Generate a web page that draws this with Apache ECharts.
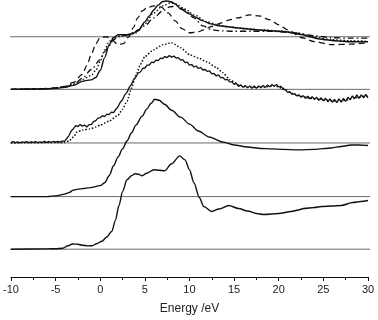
<!DOCTYPE html>
<html><head><meta charset="utf-8">
<script src="https://cdn.jsdelivr.net/npm/echarts@6/dist/echarts.min.js"></script>
<style>html,body{margin:0;padding:0;background:#fff}#c{width:378px;height:320px}</style>
</head><body><div id="c"></div>
<script>
// x-axis ticks
const xTicks = [-10, -5, 0, 5, 10, 15, 20, 25, 30];

// Top group (four calculated spectra) : [energy eV, intensity]
const topSolid = [[-10,0],[-7,0.3],[-5,1],[-4,2],[-3,4],[-2,8],[-1.5,9],[-1,9.5],[-0.5,12],[0,19],[0.5,32],[1,45],[1.5,52],[2,55],[3,55],[3.6,56],[4.3,60],[5,68],[5.5,74],[6,80],[6.5,85],[7,88.5],[7.5,89],[8,88],[8.5,85.5],[9,81],[10,76],[10.6,73],[11.5,69],[12.4,66],[13.3,64],[14.3,63],[15.2,62],[16.3,61],[17.4,60],[19,59],[20.8,58],[21.7,56.5],[22.7,55],[23.5,53],[24.4,51],[25.3,50],[26.3,49],[28,48],[30,48]];
const topDashed = [[-10,0],[-7,0.3],[-5,1.5],[-4,3],[-3,7],[-2,15],[-1.5,24],[-1,35],[-0.5,46],[0,52],[0.7,53],[1.3,50],[2,45],[2.6,46],[3.2,53],[3.7,62],[4.2,72],[4.7,79],[5.2,82],[6,84],[6.8,83],[7.6,77],[8.4,69],[9.2,61],[10,57],[11,58],[11.6,60],[12.5,63.5],[13.6,67],[14.5,70],[15.4,72],[16.7,75],[17.8,74],[19,70],[20,65],[21,60],[22.6,52],[24,48],[25.9,45],[28,45.5],[30,47]];
const topDashDot = [[-10,0],[-6,0.5],[-4,2],[-3,5],[-2,11],[-1,20],[0,30],[0.5,38],[1,44],[1.5,50],[2,53],[3,55],[4,58],[5,64],[6,72],[7,79],[7.8,83],[8.6,84],[9.5,80],[10.5,72],[11.5,64],[12.5,60],[13.5,59],[15,58.5],[17,58.5],[19,58.5],[21,57.5],[22.5,56],[24,54],[26,52],[28,51.5],[30,51.5]];
const topDotted = [[-10,0],[-6,0.5],[-4,2.5],[-3,5.5],[-2,10],[-1,14],[-0.5,19],[0,28],[0.5,40],[1,48],[1.5,52],[2,53.5],[3,54],[4,57],[5,66],[6,77],[7,84],[7.8,87],[8.5,86],[9.5,81],[10.5,75],[12,68],[13,65.5],[14,63.5],[16,61.5],[18,60],[20,59],[22,57],[24,52.5],[26,50],[28,49],[30,48.5]];

// Measured (noisy) spectrum, sampled every 0.25 eV from -10 to 30
const measuredStart = -10, measuredStep = 0.25;
const measuredNoisy = [
0.5,1.3,0.4,1.1,0.2,1.2,0.6,1.4,0.3,1.0,0.5,1.5,0.4,1.2,0.7,1.6,0.5,1.3,0.6,1.5,
0.8,1.7,0.9,2.0,1.6,4.5,7.5,12,14.5,17.5,16.5,18.5,17,18,16,18.5,18.5,21.5,22.5,25,
25.5,27.5,26.5,29,28.5,31,30.5,34,36.5,41,43.5,48.5,51,56,59,64,66.5,70.5,71.5,75,
75.5,78.5,78.5,81.5,81,83.5,83,85.5,85,87,86,88,86.5,87.5,85.5,86,83.5,84,81,81.5,
78.5,79,76.5,77.5,75,76,73.5,74,72,72.5,69.5,70,67.5,68.5,65.5,66,63.5,64,61.5,61.5,
59,60,57,58.5,56,58,55.5,57.5,55,57.5,55,57.5,55.5,58,56,58.5,56.5,59,57,59,
56.5,57,54,53.5,51,51.5,49,49.5,47.5,48.5,46,47.5,45,47,44.5,46.5,44,46,43,45.5,
42.5,45,41.5,44.5,41,44,40.5,44.5,41,45,42,46,43.5,47.5,44.5,48.5,45,48.5,45.5,49,
45.5];
const measuredDotted = [[-10,0],[-4,0.5],[-3.5,2],[-3,6],[-2.6,11],[-2,13],[-1.2,14],[-0.5,16],[0,18],[1,22],[2,28],[2.5,34],[3,42],[3.5,55],[4,68],[4.5,79],[5,87],[6,94],[7,99],[8,101],[9,96],[10,89],[11,85.5],[12,81.5],[13,76],[13.7,71],[14.5,64],[15.5,58.5],[16.5,56],[17.5,56],[18.5,56.5],[19.5,57.5],[20.5,55],[21.5,50],[22.5,47],[23.5,45],[24.5,44],[25.5,43],[26.5,42],[27.5,43],[28.5,45.5],[29.5,47],[30,47.5]];

// Fourth spectrum
const spec4 = [[-10,0],[-6,0],[-4.8,1],[-4,2.5],[-3.5,4],[-3,6.5],[-2.5,7.5],[-2,8],[-1.1,9],[0,11],[0.5,14],[1,21],[1.5,31],[2,40],[2.5,48],[3,56],[3.5,64],[4,72],[4.7,81],[5.2,88],[5.7,94],[6.1,98],[6.6,97],[7.2,93],[8,87],[9,80],[10,73],[11,66],[12.2,60],[13.7,55],[15,52],[16.5,50],[18,48.5],[19.2,48],[20.5,47.5],[22.2,47],[24,47.5],[25.9,49],[27,50.5],[28.1,52],[29,52],[30,51.5]];

// Fifth (bottom) spectrum
const spec5 = [[-10,0],[-6,0.3],[-5,0.5],[-4.2,1],[-3.6,3.5],[-3.1,5.3],[-2.5,5],[-2,4],[-1.4,3.4],[-0.9,3.5],[-0.4,5.5],[0.2,8],[0.7,12],[1.3,18],[1.7,29],[2.1,44],[2.5,58],[3,70],[3.5,74],[3.9,76],[4.3,75.5],[4.7,74],[5.2,76.5],[6,80],[6.6,79.5],[7.2,79],[8,86],[8.9,94],[9.5,90],[10,80],[10.5,67],[11.1,52],[11.6,43],[12.5,38],[13.3,40.5],[14.4,44],[15.5,41],[16.5,38.5],[17.5,36],[18.3,35],[20,36],[21.4,38],[22.2,39.5],[22.8,41],[24,42],[24.8,43],[26,43.5],[27,44],[28.3,47],[29.2,48],[30,49]];

// layout constants (vertical placement of each trace, in axis units)
const OFF_TOP = 189, OFF_MEAS = 135, OFF_S4 = 81, OFF_S5 = 28;
const REF_LINES = [242, 189, 135, 81, 28];

const shift = (arr, off) => arr.map(p => [p[0], p[1] + off]);
const measuredPairs = measuredNoisy.map((v, i) => [measuredStart + i * measuredStep, v]);

const black = '#111';
function curve(data, off, type, w, smooth) {
  return {type: 'line', data: shift(data, off), symbol: 'none', smooth: smooth, smoothMonotone: 'x',
    lineStyle: {color: black, width: w, type: type}, z: 3, silent: true};
}

const series = [];
REF_LINES.forEach(v => series.push({type: 'line', data: [[-10.1, v], [31, v]], symbol: 'none', clip: false,
  lineStyle: {color: '#6a6a6a', width: 1}, z: 1, silent: true}));
series.push(curve(topDashed, OFF_TOP, [6, 4], 1.3, 0.3));
series.push(curve(topDashDot, OFF_TOP, [6, 3, 1.5, 3], 1.3, 0.3));
series.push(curve(topDotted, OFF_TOP, [1.5, 2], 1.3, 0.3));
series.push(curve(topSolid, OFF_TOP, 'solid', 1.4, 0.3));
series.push(curve(measuredDotted, OFF_MEAS, [1.5, 1.8], 1.5, 0.2));
series.push(curve(measuredPairs, OFF_MEAS, 'solid', 1.3, false));
series.push(curve(spec4, OFF_S4, 'solid', 1.4, 0.3));
series.push(curve(spec5, OFF_S5, 'solid', 1.4, 0.3));

const chart = echarts.init(document.getElementById('c'), null, {renderer: 'canvas'});
chart.setOption({
  animation: false,
  backgroundColor: '#fff',
  grid: {left: 8, right: 10, top: 0, bottom: 41, containLabel: false},
  xAxis: {type: 'value', min: xTicks[0], max: xTicks[xTicks.length - 1], interval: 5,
    name: 'Energy /eV', nameLocation: 'middle', nameGap: 26,
    nameTextStyle: {fontFamily: 'Liberation Sans', fontSize: 12, color: '#222'},
    axisLine: {show: true, onZero: false, lineStyle: {color: '#111', width: 1}},
    axisTick: {show: true, inside: false, length: 4, lineStyle: {color: '#111', width: 1}},
    minorTick: {show: true, splitNumber: 2, length: 3, lineStyle: {color: '#111', width: 1}},
    axisLabel: {margin: 7, fontFamily: 'Liberation Sans', fontSize: 11, color: '#222'},
    splitLine: {show: false}},
  yAxis: {type: 'value', min: 0, max: 279, show: false, splitLine: {show: false}},
  series: series
});
</script></body></html>
